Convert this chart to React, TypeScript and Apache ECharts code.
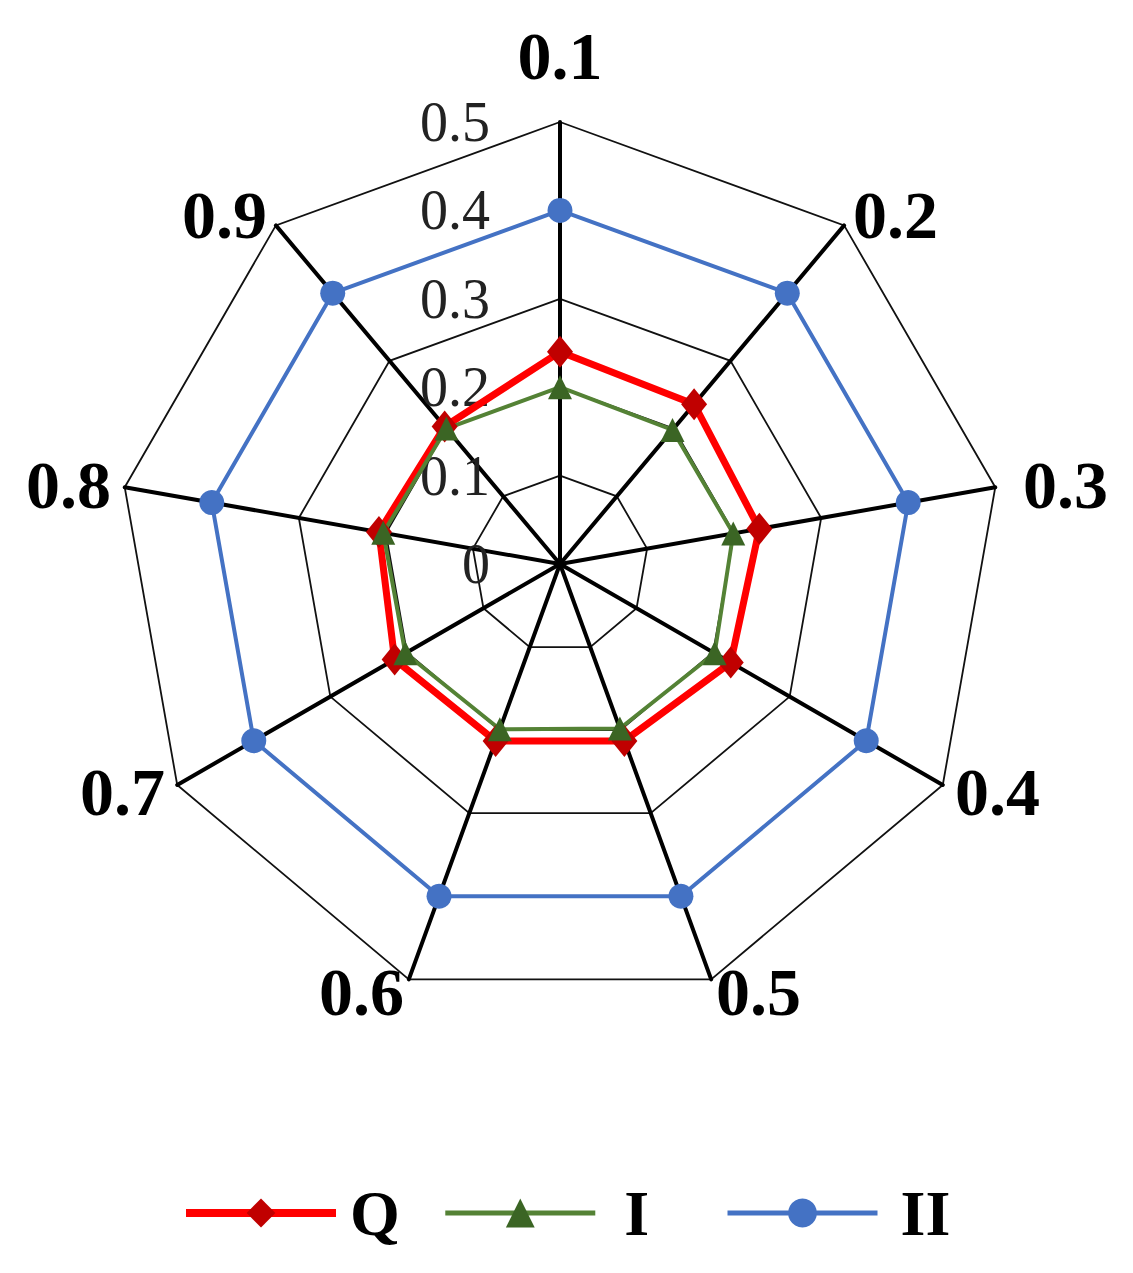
import React, { useEffect, useRef } from "react";
import * as echarts from "echarts";

// axes, clockwise from the top
const indicators = ["0.1", "0.2", "0.3", "0.4", "0.5", "0.6", "0.7", "0.8", "0.9"];
const seriesNames = ["Q", "I", "II"];
const qValues = [0.24, 0.236, 0.229, 0.223, 0.213, 0.213, 0.216, 0.208, 0.203];
const iValues = [0.2, 0.198, 0.199, 0.202, 0.198, 0.199, 0.202, 0.203, 0.2];
const iiValues = [0.4, 0.4, 0.4, 0.4, 0.4, 0.4, 0.4, 0.4, 0.4];
const axisMin = 0;
const axisMax = 0.5;

const serif = "'Liberation Serif', 'Times New Roman', serif";

// echarts lays radar axes out counter-clockwise, so flip the order after the first one
const ccw = indicators.map((_, k) => (k === 0 ? 0 : indicators.length - k));
const reorder = (vals: number[]) => ccw.map((i) => vals[i]);

const styles = [
  { line: "#ff0000", mark: "#c00000", width: 7, symbol: "diamond", size: [26, 32] },
  { line: "#548235", mark: "#3b6524", width: 4, symbol: "triangle", size: [24, 24] },
  { line: "#4472c4", mark: "#4472c4", width: 4, symbol: "circle", size: 25 },
];

const nameFont = { fontFamily: serif, fontWeight: "bold", fontSize: 68, color: "#000" };
const legendFont = { fontFamily: serif, fontWeight: "bold", fontSize: 64, color: "#000" };

export default function App() {
  const chartRef = useRef<HTMLDivElement>(null);

  useEffect(() => {
    if (!chartRef.current) return;
    document.body.style.margin = "0";
    const chart = echarts.init(chartRef.current, undefined, { renderer: "svg" });

    const valueSets = [qValues, iValues, iiValues];

    const legendBase = {
      top: 1176,
      itemWidth: 150,
      itemHeight: 36,
      itemGap: 43,
      textStyle: { ...legendFont },
    };

    const option: any = {
      animation: false,
      backgroundColor: "#fff",
      radar: {
        center: [560, 564],
        radius: 442,
        startAngle: 90,
        splitNumber: 5,
        shape: "polygon",
        indicator: ccw.map((i, k) => ({
          name: indicators[i],
          min: axisMin,
          max: axisMax,
          ...(k === 0 ? { axisLabel: { show: true } } : {}),
        })),
        nameGap: 14,
        axisName: {
          ...nameFont,
          formatter: (name: string) =>
            name === "0.1" ? `{top|${name}}` : name === "0.3" ? `{right|${name}}` : `{n|${name}}`,
          rich: {
            n: { ...nameFont },
            top: { ...nameFont, padding: [0, 0, 18, 0] },
            right: { ...nameFont, padding: [0, 0, 0, 14] },
          },
        },
        axisLine: { lineStyle: { color: "#000", width: 4 } },
        splitLine: { lineStyle: { color: "#111", width: 1.8 } },
        splitArea: { show: false },
        axisTick: { show: false },
        axisLabel: {
          show: false,
          color: "#222",
          fontFamily: serif,
          fontSize: 56,
          margin: 70,
          formatter: (v: number) => String(Math.round(v * 10) / 10),
        },
      },
      // hidden grid only so the legend gets line + marker icons
      grid: { left: 0, top: 0, width: 1, height: 1, show: false },
      xAxis: { type: "category", show: false, data: [] },
      yAxis: { type: "value", show: false },
      legend: [
        {
          ...legendBase,
          left: 177,
          data: [
            { name: "Q", lineStyle: { width: 8 }, textStyle: { padding: [0, 0, 0, 9] } },
            { name: "I", lineStyle: { width: 5 }, textStyle: { padding: [0, 0, 0, 24] } },
          ],
        },
        {
          ...legendBase,
          left: 720,
          data: [{ name: "II", lineStyle: { width: 5 }, textStyle: { padding: [0, 0, 0, 18] } }],
        },
      ],
      series: [
        ...seriesNames.map((name, s) => ({
          name,
          type: "line",
          data: [],
          symbol: styles[s].symbol,
          lineStyle: { color: styles[s].line, width: styles[s].width },
          itemStyle: { color: styles[s].mark },
        })),
        {
          name: "radar",
          type: "radar",
          data: seriesNames.map((name, s) => ({
            name,
            value: reorder(valueSets[s]),
            symbol: styles[s].symbol,
            symbolSize: styles[s].size,
            lineStyle: { color: styles[s].line, width: styles[s].width },
            itemStyle: { color: styles[s].mark },
          })),
        },
      ],
    };

    chart.setOption(option);
    return () => chart.dispose();
  }, []);

  return <div ref={chartRef} style={{ width: "1133px", height: "1273px" }} />;
}
